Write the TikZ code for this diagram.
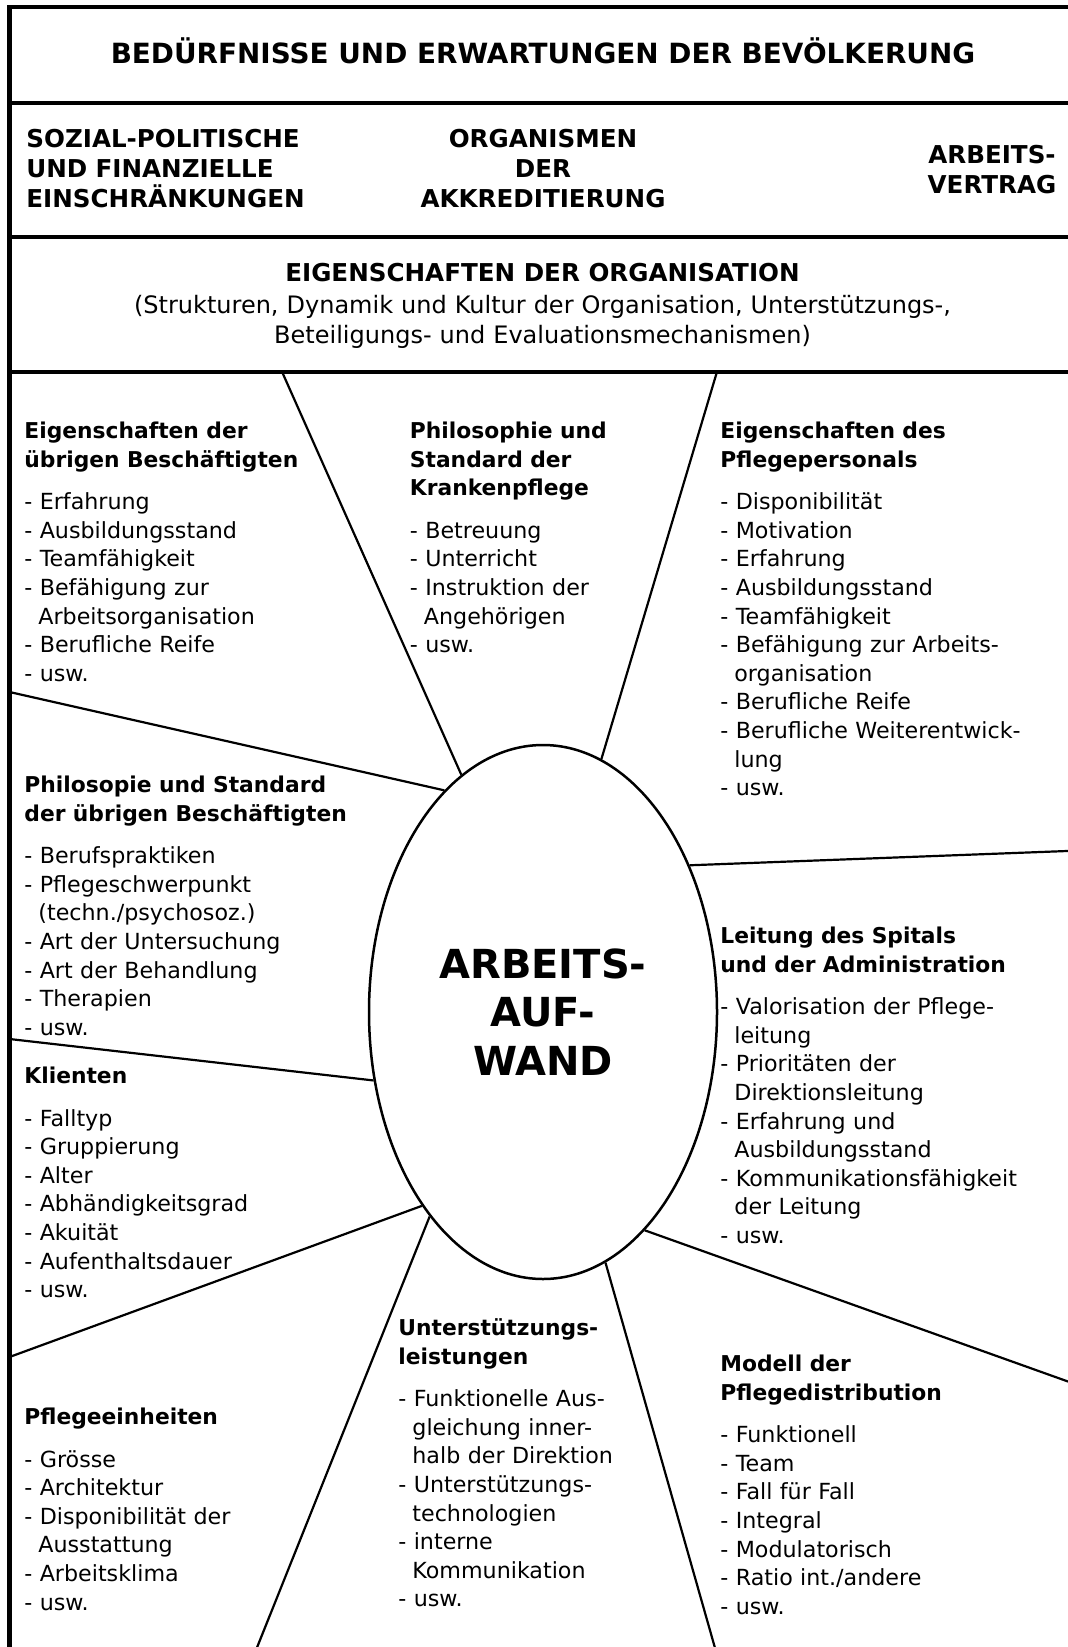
\documentclass[tikz,border=0pt]{standalone}
\usepackage{fontspec}
\setmainfont{DejaVu Sans}
\usetikzlibrary{shapes.geometric}

\newcommand\hd[1]{{\fontsize{10.9}{14.3}\selectfont\bfseries #1}}
\newcommand\ind{\hspace*{7pt}}
\newcommand\tst{\rule{0pt}{12pt}}

\tikzset{
  frameline/.style={line width=2.15pt, line join=miter},
  ray/.style={line width=1.1pt},
  blk/.style={anchor=north west, inner sep=0pt, text width=175pt, align=left,
              font=\fontsize{11.1}{14.3}\selectfont},
  caps/.style={inner sep=0pt, font=\fontsize{12.3}{15}\selectfont\bfseries},
}

\begin{document}
\begin{tikzpicture}[x=0.5pt, y=-0.5pt]
\path[use as bounding box, fill=white] (0,0) rectangle (1067,1647);

% frame
\draw[frameline] (1075,7.3) -- (9.5,7.3) -- (9.5,1655);
\draw[frameline] (9.5,102.7) -- (1075,102.7);
\draw[frameline] (9.5,237.3) -- (1075,237.3);
\draw[frameline] (9.5,371.7) -- (1075,371.7);

% top texts
\node[anchor=base, inner sep=0pt, font=\fontsize{13.92}{16}\selectfont\bfseries] (title) at (543,64)
  {BEDÜRFNISSE UND ERWARTUNGEN DER BEVÖLKERUNG};

\node[caps, anchor=north west, text width=170pt, align=left] (sozial) at (26,122.7)
  {\tst SOZIAL-POLITISCHE\\UND FINANZIELLE\\EINSCHRÄNKUNGEN};
\node[caps, anchor=north, text width=200pt, align=center] (organismen) at (543,122.7)
  {\tst ORGANISMEN\\DER\\AKKREDITIERUNG};
\node[caps, anchor=north, text width=100pt, align=center] (vertrag) at (992,139)
  {\tst ARBEITS-\\VERTRAG};

\node[caps, anchor=base] (org) at (542.5,281.7) {EIGENSCHAFTEN DER ORGANISATION};
\node[anchor=north, inner sep=0pt, text width=480pt, align=center,
      font=\fontsize{12}{14.8}\selectfont] (orgsub) at (542.5,289)
  {\tst (Strukturen, Dynamik und Kultur der Organisation, Unterstützungs-,\\
   Beteiligungs- und Evaluationsmechanismen)};

% centre
\node[draw, ellipse, line width=1.25pt, minimum width=174pt, minimum height=267pt,
      inner sep=0pt, align=center, fill=white,
      font=\fontsize{20}{24.25}\selectfont\bfseries] (ell) at (543,1012)
  {ARBEITS-\\AUF-\\WAND};

% ray ends
\coordinate (o1) at (282,371.7);
\coordinate (o2) at (717,371.7);
\coordinate (o3) at (9.5,692);
\coordinate (o4) at (1075,850.7);
\coordinate (o5) at (9.5,1039);
\coordinate (o6) at (9.5,1357);
\coordinate (o7) at (254,1655);
\coordinate (o8) at (717,1655);
\coordinate (o9) at (1075,1384);

\draw[ray] (o1) -- (ell.109);
\draw[ray] (o2) -- (ell.77);
\draw[ray] (o3) -- (ell.114);
\draw[ray] (o4) -- (ell.45);
\draw[ray] (o5) -- (ell.202);
\draw[ray] (o6) -- (ell.238);
\draw[ray] (o7) -- (ell.241);
\draw[ray] (o8) -- (ell.284);
\draw[ray] (o9) -- (ell.295);

% blocks
\node[blk] (ueb) at (24,414) {\tst\hd{Eigenschaften der}\\
\hd{übrigen Beschäftigten}\\[7pt]
- Erfahrung\\
- Ausbildungsstand\\
- Teamfähigkeit\\
- Befähigung zur\\
\ind Arbeitsorganisation\\
- Berufliche Reife\\
- usw.};

\node[blk] (philo) at (409.5,414) {\tst\hd{Philosophie und}\\
\hd{Standard der}\\
\hd{Krankenpflege}\\[7pt]
- Betreuung\\
- Unterricht\\
- Instruktion der\\
\ind Angehörigen\\
- usw.};

\node[blk] (pflege) at (720,414) {\tst\hd{Eigenschaften des}\\
\hd{Pflegepersonals}\\[7pt]
- Disponibilität\\
- Motivation\\
- Erfahrung\\
- Ausbildungsstand\\
- Teamfähigkeit\\
- Befähigung zur Arbeits-\\
\ind organisation\\
- Berufliche Reife\\
- Berufliche Weiterentwick-\\
\ind lung\\
- usw.};

\node[blk] (philoueb) at (24,768) {\tst\hd{Philosopie und Standard}\\
\hd{der übrigen Beschäftigten}\\[7pt]
- Berufspraktiken\\
- Pflegeschwerpunkt\\
\ind (techn./psychosoz.)\\
- Art der Untersuchung\\
- Art der Behandlung\\
- Therapien\\
- usw.};

\node[blk] (klienten) at (24,1059) {\tst\hd{Klienten}\\[7pt]
- Falltyp\\
- Gruppierung\\
- Alter\\
- Abhändigkeitsgrad\\
- Akuität\\
- Aufenthaltsdauer\\
- usw.};

\node[blk] (leitung) at (720,919) {\tst\hd{Leitung des Spitals}\\
\hd{und der Administration}\\[7pt]
- Valorisation der Pflege-\\
\ind leitung\\
- Prioritäten der\\
\ind Direktionsleitung\\
- Erfahrung und\\
\ind Ausbildungsstand\\
- Kommunikationsfähigkeit\\
\ind der Leitung\\
- usw.};

\node[blk] (einheiten) at (24,1400) {\tst\hd{Pflegeeinheiten}\\[7pt]
- Grösse\\
- Architektur\\
- Disponibilität der\\
\ind Ausstattung\\
- Arbeitsklima\\
- usw.};

\node[blk] (unterst) at (398,1311) {\tst\hd{Unterstützungs-}\\
\hd{leistungen}\\[7pt]
- Funktionelle Aus-\\
\ind gleichung inner-\\
\ind halb der Direktion\\
- Unterstützungs-\\
\ind technologien\\
- interne\\
\ind Kommunikation\\
- usw.};

\node[blk] (modell) at (720,1347) {\tst\hd{Modell der}\\
\hd{Pflegedistribution}\\[7pt]
- Funktionell\\
- Team\\
- Fall für Fall\\
- Integral\\
- Modulatorisch\\
- Ratio int./andere\\
- usw.};
\end{tikzpicture}
\end{document}
